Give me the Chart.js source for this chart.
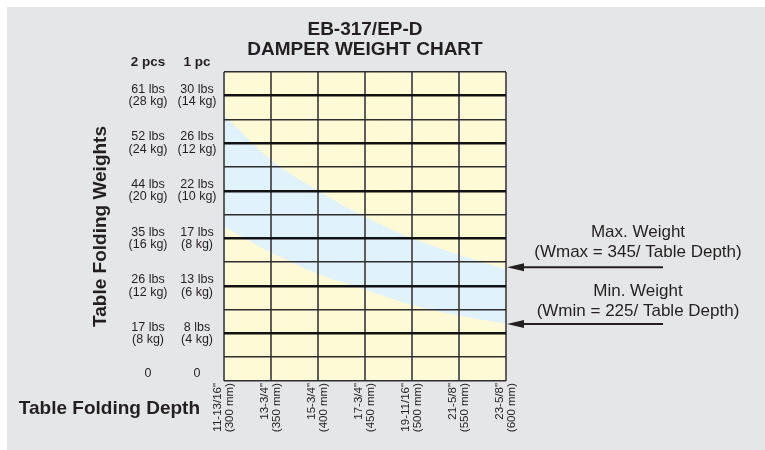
<!DOCTYPE html>
<html>
<head>
<meta charset="utf-8">
<script src="https://cdn.jsdelivr.net/npm/chart.js@4.4.1/dist/chart.umd.min.js"></script>
<style>
  body { margin: 0; background: #fff; }
  #wrap { width: 765px; height: 450px; }
</style>
</head>
<body>
<div id="wrap"><canvas id="damperChart" width="765" height="450"></canvas></div>
<script>
// table depth (x axis)
const depthMm = [300, 350, 400, 450, 500, 550, 600];
const depthInch = ['11-13/16"', '13-3/4"', '15-3/4"', '17-3/4"', '19-11/16"', '21-5/8"', '23-5/8"'];

// weight axis runs on a 1-pc kg scale (2..15); labels sit at these positions ("0" is drawn just above the bottom)
const weightTicks = [2.3, 4, 6, 8, 10, 12, 14];
const labels2pcs = ['0', ['17 lbs', '(8 kg)'], ['26 lbs', '(12 kg)'], ['35 lbs', '(16 kg)'], ['44 lbs', '(20 kg)'], ['52 lbs', '(24 kg)'], ['61 lbs', '(28 kg)']];
const labels1pc = ['0', ['8 lbs', '(4 kg)'], ['13 lbs', '(6 kg)'], ['17 lbs', '(8 kg)'], ['22 lbs', '(10 kg)'], ['26 lbs', '(12 kg)'], ['30 lbs', '(14 kg)']];

// band limits (1-pc kg scale)
const maxWeight = [13.2, 11.3, 10.0, 8.9, 8.0, 7.3, 6.7];
const minWeight = [8.5, 7.4, 6.5, 5.85, 5.2, 4.75, 4.4];

const textColor = '#231f20';
const fontFamily = "'Liberation Sans', Arial, Helvetica, sans-serif";
Chart.defaults.font.family = fontFamily;
Chart.defaults.color = textColor;

const backgroundPlugin = {
    id: 'backgrounds',
    beforeDraw(chart) {
        const ctx = chart.ctx;
        const area = chart.chartArea;
        ctx.save();
        ctx.fillStyle = '#ffffff';
        ctx.fillRect(0, 0, chart.width, chart.height);
        ctx.fillStyle = '#e5e6e8';
        ctx.fillRect(7, 7, chart.width - 7, chart.height - 7);
        ctx.fillStyle = '#fdfad5';
        ctx.fillRect(area.left, area.top, area.right - area.left, area.bottom - area.top);
        ctx.restore();
    }
};

function drawArrow(ctx, tipX, y, tailX) {
    ctx.beginPath();
    ctx.moveTo(tailX, y);
    ctx.lineTo(tipX + 14, y);
    ctx.lineWidth = 2;
    ctx.strokeStyle = '#231f20';
    ctx.stroke();
    ctx.beginPath();
    ctx.moveTo(tipX, y);
    ctx.lineTo(tipX + 17, y - 4);
    ctx.lineTo(tipX + 17, y + 4);
    ctx.closePath();
    ctx.fillStyle = '#231f20';
    ctx.fill();
}

const notesPlugin = {
    id: 'notes',
    afterDraw(chart) {
        const ctx = chart.ctx;
        const area = chart.chartArea;
        const yScale = chart.scales.y;
        ctx.save();
        ctx.fillStyle = textColor;
        ctx.textBaseline = 'middle';

        // column headers
        ctx.font = 'bold 13.5px ' + fontFamily;
        ctx.textAlign = 'center';
        ctx.fillText('2 pcs', area.left - 76, 62);
        ctx.fillText('1 pc', area.left - 27, 62);

        // x axis title, left of the tick labels
        ctx.font = 'bold 19px ' + fontFamily;
        ctx.textAlign = 'right';
        ctx.fillText('Table Folding Depth', area.left - 24, 409);

        // right side notes with arrows
        const last = depthMm.length - 1;
        const maxY = yScale.getPixelForValue(maxWeight[last]);
        const minY = yScale.getPixelForValue(minWeight[last]);
        const noteX = area.right + 132;
        ctx.font = '17px ' + fontFamily;
        ctx.textAlign = 'center';
        ctx.fillText('Max. Weight', noteX, 232);
        ctx.fillText('(Wmax = 345/ Table Depth)', noteX, 252);
        ctx.fillText('Min. Weight', noteX, 291);
        ctx.fillText('(Wmin = 225/ Table Depth)', noteX, 311);
        drawArrow(ctx, area.right + 1, maxY - 2, area.right + 157);
        drawArrow(ctx, area.right + 1, minY, area.right + 157);
        ctx.restore();
    }
};

function labelAxis(labels, weight, extra) {
    return Object.assign({
        type: 'linear',
        position: 'left',
        min: 2,
        max: 15,
        weight: weight,
        grid: { display: false, drawTicks: false },
        border: { display: false },
        afterBuildTicks: axis => {
            axis.ticks = weightTicks.map(v => ({ value: v }));
        },
        ticks: {
            autoSkip: false,
            padding: 7.5,
            crossAlign: 'center',
            color: textColor,
            font: { size: 12.5, lineHeight: 1.0 },
            callback: (value, index) => labels[index]
        }
    }, extra);
}

const ctx = document.getElementById('damperChart').getContext('2d');
const damperChart = new Chart(ctx, {
    type: 'line',
    data: {
        labels: depthMm,
        datasets: [
            {
                label: 'Max. Weight',
                data: depthMm.map((d, i) => ({ x: d, y: maxWeight[i] })),
                borderWidth: 0,
                borderColor: 'rgba(0,0,0,0)',
                backgroundColor: '#e0f2fb',
                pointRadius: 0,
                cubicInterpolationMode: 'monotone',
                fill: '+1'
            },
            {
                label: 'Min. Weight',
                data: depthMm.map((d, i) => ({ x: d, y: minWeight[i] })),
                borderWidth: 0,
                borderColor: 'rgba(0,0,0,0)',
                pointRadius: 0,
                cubicInterpolationMode: 'monotone',
                fill: false
            }
        ]
    },
    options: {
        responsive: false,
        animation: false,
        devicePixelRatio: 1,
        layout: { padding: { left: 7, right: 259, top: 7, bottom: 0 } },
        plugins: {
            legend: { display: false },
            tooltip: { enabled: false },
            title: {
                display: true,
                fullSize: false,
                text: ['EB-317/EP-D', 'DAMPER WEIGHT CHART'],
                color: textColor,
                font: { size: 19, weight: 'bold', lineHeight: 1.05 },
                padding: { top: 13, bottom: 12 }
            }
        },
        scales: {
            x: {
                type: 'linear',
                min: 300,
                max: 600,
                afterFit: axis => { axis.height = 69; },
                border: { display: false },
                grid: { z: 1, color: '#5e5e5e', lineWidth: 2, drawTicks: false },
                ticks: {
                    stepSize: 50,
                    autoSkip: false,
                    minRotation: 90,
                    maxRotation: 90,
                    padding: 2,
                    labelOffset: -6,
                    color: textColor,
                    font: { size: 11.5, lineHeight: 1.05 },
                    callback: value => {
                        const i = depthMm.indexOf(value);
                        return i < 0 ? '' : [depthInch[i], '(' + value + ' mm)'];
                    }
                }
            },
            y: {
                type: 'linear',
                position: 'left',
                min: 2,
                max: 15,
                weight: 0,
                afterFit: axis => { axis.width = 0; },
                border: { display: false },
                grid: {
                    z: 2,
                    drawTicks: false,
                    color: c => (c.tick.value >= 4 && c.tick.value <= 14 && c.tick.value % 2 === 0) ? '#111111' : '#2e2e2e',
                    lineWidth: c => (c.tick.value >= 4 && c.tick.value <= 14 && c.tick.value % 2 === 0) ? 2.5 : 1.6
                },
                ticks: { display: false, stepSize: 1 }
            },
            y1pc: labelAxis(labels1pc, 1, {
                afterFit: axis => { axis.width = 49; }
            }),
            y2pcs: labelAxis(labels2pcs, 2, {
                afterFit: axis => { axis.width = 168; },
                title: {
                    display: true,
                    text: 'Table Folding Weights',
                    color: textColor,
                    font: { size: 19, weight: 'bold' },
                    padding: { top: 82.6, bottom: 0 }
                }
            })
        }
    },
    plugins: [backgroundPlugin, notesPlugin]
});
</script>
</body>
</html>
